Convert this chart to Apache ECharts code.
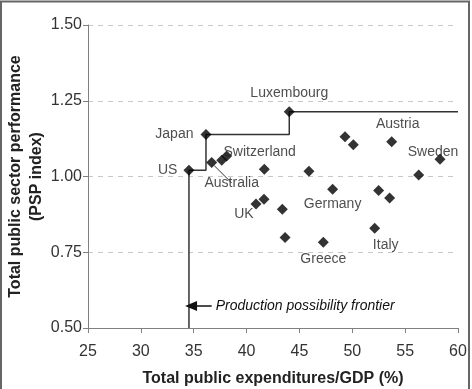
<!DOCTYPE html>
<html>
<head>
<meta charset="utf-8">
<script src="https://cdn.jsdelivr.net/npm/echarts@6/dist/echarts.min.js"></script>
<style>html,body{margin:0;padding:0;background:#fff;}#c{width:472px;height:389px;}</style>
</head>
<body>
<div id="c"></div>
<script>
// Country data (expenditure % of GDP, PSP index)
var countries = ['US','Japan','Luxembourg','Australia','','Switzerland','','','','','Austria','Sweden','','Germany','','','UK','','','','Greece','Italy'];
var expend = [34.55, 36.16, 44.04, 36.70, 37.65, 38.12, 41.68, 45.90, 49.31, 50.10, 53.73, 58.30, 56.28, 48.14, 52.49, 53.53, 40.89, 41.65, 43.38, 43.64, 47.26, 52.12];
var psp    = [1.021, 1.139, 1.214, 1.046, 1.054, 1.068, 1.024, 1.017, 1.131, 1.105, 1.115, 1.057, 1.005, 0.958, 0.954, 0.929, 0.909, 0.925, 0.892, 0.799, 0.783, 0.829];
// Production possibility frontier
var frontierX = [34.55, 34.55, 36.16, 36.16, 44.04, 44.04, 60];
var frontierY = [0.50, 1.021, 1.021, 1.139, 1.139, 1.214, 1.214];
var xTicks = [25, 30, 35, 40, 45, 50, 55, 60];
var yTicks = [0.50, 0.75, 1.00, 1.25, 1.50];
var annotationText = 'Production possibility frontier';
var annotationY = 0.573;
var annotationX = [36.7, 34.75];

// label styles (presentation only)
var labelStyle = {
  'US': {position: 'left', distance: 6},
  'Japan': {position: 'left', distance: 7},
  'Luxembourg': {position: 'top', distance: 6},
  'Australia': {position: 'bottom', distance: 5, offset: [20, 3]},
  'Switzerland': {position: 'top', distance: 0, offset: [33, 9]},
  'Austria': {position: 'top', distance: 5, offset: [6, 0]},
  'Sweden': {position: 'top', distance: 0, offset: [-7, 5]},
  'Germany': {position: 'bottom', distance: 2},
  'UK': {position: 'bottom', distance: 0, offset: [-12, -2]},
  'Greece': {position: 'bottom', distance: 4},
  'Italy': {position: 'bottom', distance: 4, offset: [11, 0]}
};

var pts = expend.map(function (x, i) {
  var name = countries[i];
  var item = {value: [x, psp[i]], name: name};
  if (name && labelStyle[name]) {
    var s = labelStyle[name];
    item.label = Object.assign({show: true, formatter: name}, s);
    if (name === 'Australia') {
      item.labelLine = {show: true, lineStyle: {color: '#333', width: 1}};
    }
  }
  return item;
});

var frontier = frontierX.map(function (x, i) { return [x, frontierY[i]]; });

var chart = echarts.init(document.getElementById('c'), null, {renderer: 'canvas'});
var font = 'Liberation Sans, Arial, sans-serif';
chart.setOption({
  animation: false,
  backgroundColor: '#fff',
  textStyle: {fontFamily: font},
  grid: {left: 88, right: 14, top: 25, bottom: 61, containLabel: false, outerBoundsMode: 'none'},
  xAxis: {
    type: 'value', min: 25, max: 60, interval: 5,
    name: 'Total public expenditures/GDP (%)',
    nameLocation: 'middle', nameGap: 43, nameMoveOverlap: false,
    nameTextStyle: {fontSize: 16, fontWeight: 'bold', color: '#222', fontFamily: font},
    axisLine: {show: true, lineStyle: {color: '#808080', width: 1}},
    axisTick: {show: true, length: 5, lineStyle: {color: '#808080'}},
    axisLabel: {fontSize: 16, color: '#333', margin: 16, formatter: function (v) { return xTicks.indexOf(v) >= 0 ? String(v) : ''; }},
    splitLine: {show: false}
  },
  yAxis: {
    type: 'value', min: 0.5, max: 1.5, interval: 0.25,
    name: 'Total public sector performance\n(PSP index)',
    nameLocation: 'middle', nameGap: 41, nameRotate: 90, nameMoveOverlap: false,
    nameTextStyle: {fontSize: 16, fontWeight: 'bold', color: '#222', lineHeight: 21, fontFamily: font},
    axisLine: {show: true, lineStyle: {color: '#808080', width: 1}},
    axisTick: {show: true, length: 5, lineStyle: {color: '#808080'}},
    axisLabel: {fontSize: 16, color: '#333', margin: 6, formatter: function (v) { return yTicks.indexOf(v) >= 0 ? v.toFixed(2) : ''; }},
    splitLine: {show: true, lineStyle: {color: '#c8c8c8', type: [5, 5], width: 1}}
  },
  graphic: [{
    type: 'rect', shape: {x: 1, y: 1.5, width: 468, height: 400},
    style: {fill: 'none', stroke: '#666', lineWidth: 2}, silent: true
  }],
  series: [
    {
      type: 'line', data: frontier, symbol: 'none', z: 2,
      lineStyle: {color: '#333', width: 1.5},
      markLine: {
        silent: true, symbol: ['none', 'triangle'], symbolSize: [10, 12],
        lineStyle: {color: '#111', width: 1.5, type: 'solid'},
        label: {show: true, position: 'start', formatter: annotationText, fontStyle: 'italic', fontSize: 14, color: '#111', distance: 4},
        data: [[{coord: [annotationX[0], annotationY]}, {coord: [annotationX[1], annotationY]}]]
      }
    },
    {
      type: 'scatter', data: pts, symbol: 'diamond', symbolSize: 11, z: 3,
      itemStyle: {color: '#000'},
      label: {show: false, fontSize: 14, color: '#222', fontFamily: font}
    }
  ]
});
</script>
</body>
</html>
